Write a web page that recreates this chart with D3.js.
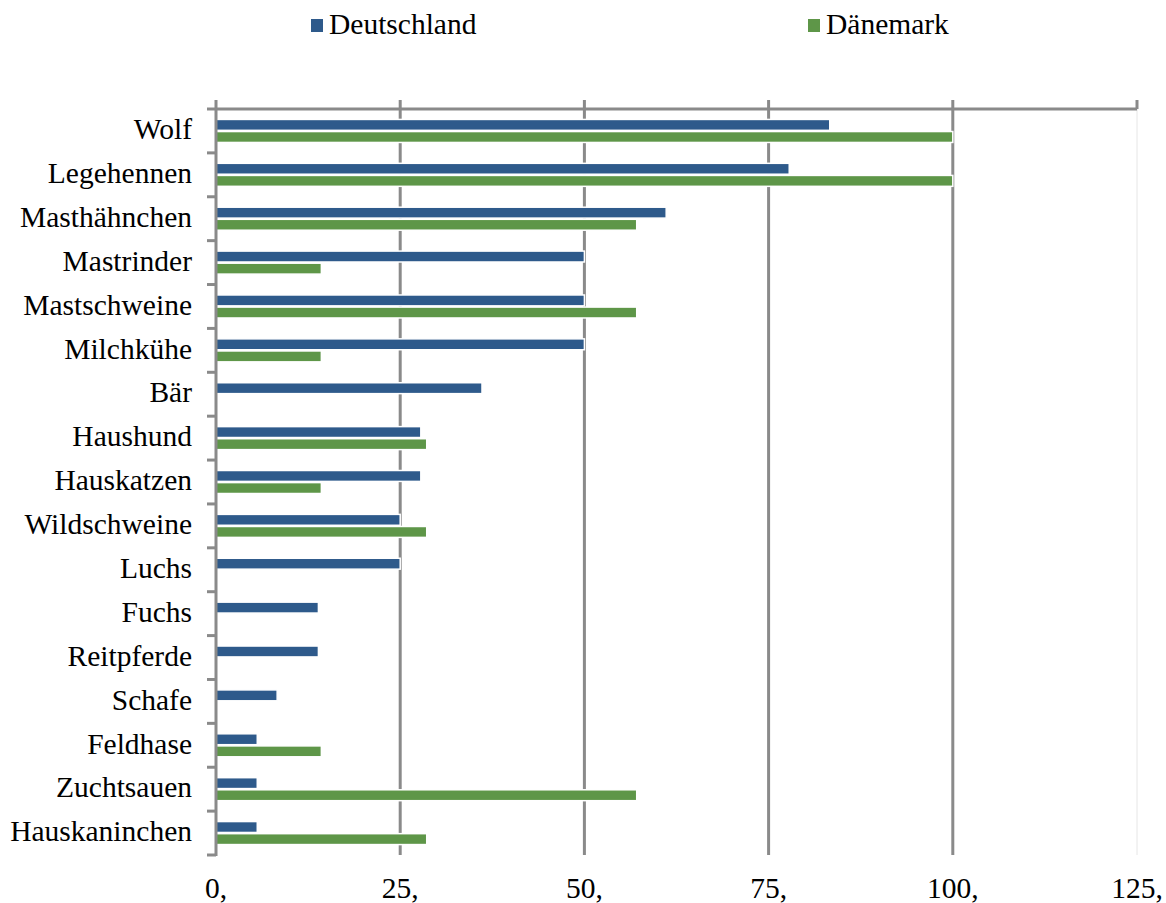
<!DOCTYPE html>
<html><head><meta charset="utf-8">
<script src="https://cdn.jsdelivr.net/npm/d3@7"></script>
<style>
html,body{margin:0;padding:0;background:#fff;}
</style></head>
<body>
<svg id="chart" width="1166" height="903"></svg>
<script>
const categories = ["Wolf","Legehennen","Masthähnchen","Mastrinder","Mastschweine","Milchkühe","Bär","Haushund","Hauskatzen","Wildschweine","Luchs","Fuchs","Reitpferde","Schafe","Feldhase","Zuchtsauen","Hauskaninchen"];
const seriesNames = ["Deutschland","Dänemark"];
const deutschland = [83.3,77.8,61.1,50,50,50,36.1,27.8,27.8,25,25,13.9,13.9,8.3,5.6,5.6,5.6];
const daenemark = [100,100,57.1,14.3,57.1,14.3,null,28.6,14.3,28.6,null,null,null,null,14.3,57.1,28.6];
const tickValues = [0,25,50,75,100,125];
const tickLabels = ["0,","25,","50,","75,","100,","125,"];
const colors = ["#2E5A8B","#5E9648"];

(function(){
const FONT = "'Liberation Serif', 'Times New Roman', Tinos, 'DejaVu Serif', serif";
const FS = 29.5;
const svg = d3.select("#chart").attr("font-family", FONT);
const mLeft = 216, mRight = 1137, mTop = 109, mBottom = 855;
const x = d3.scaleLinear().domain([0,125]).range([mLeft,mRight]);
const y = d3.scaleBand().domain(categories).range([mTop,mBottom]).padding(0);
const inner = d3.scaleBand().domain(seriesNames).range([-11.5,11.5]).paddingInner(0.1);

const axisColor = "#8a8a8a";

// gridlines
svg.append("g").selectAll("line").data(tickValues.filter(v=>v>0)).join("line")
  .attr("x1",d=>x(d)).attr("x2",d=>x(d))
  .attr("y1",d=> d===125 ? mTop : mTop-9).attr("y2",mBottom)
  .attr("stroke",d=> d===125 ? "#e6e6e6" : axisColor)
  .attr("stroke-width",d=> d===125 ? 1 : 3);
svg.append("line").attr("x1",x(125)).attr("x2",x(125)).attr("y1",mTop-9).attr("y2",mTop)
  .attr("stroke",axisColor).attr("stroke-width",3);

// top axis line
svg.append("line").attr("x1",mLeft).attr("x2",mRight).attr("y1",mTop).attr("y2",mTop)
  .attr("stroke",axisColor).attr("stroke-width",3);

// bars
const rows = categories.map((c,i)=>({c, vals:[deutschland[i],daenemark[i]]}));
const g = svg.append("g");
rows.forEach(r=>{
  r.vals.forEach((v,j)=>{
    if(v==null) return;
    const cy = y(r.c)+y.bandwidth()/2 + inner(seriesNames[j]);
    g.append("rect").attr("x",x(0)).attr("y",cy)
      .attr("width",x(v)-x(0)).attr("height",inner.bandwidth())
      .attr("fill",colors[j]).attr("stroke","#fff").attr("stroke-width",1.5);
  });
});

// left axis
svg.append("line").attr("x1",mLeft).attr("x2",mLeft).attr("y1",mTop-9).attr("y2",mBottom+1)
  .attr("stroke",axisColor).attr("stroke-width",3);
const bounds = categories.map(c=>y(c)).concat([mBottom]);
svg.append("g").selectAll("line").data(bounds).join("line")
  .attr("x1",mLeft-9).attr("x2",mLeft).attr("y1",d=>d).attr("y2",d=>d)
  .attr("stroke",axisColor).attr("stroke-width",3);

// category labels
svg.append("g").selectAll("text").data(categories).join("text")
  .attr("font-family",FONT).attr("fill","#000")
  .attr("x",mLeft-24).attr("y",d=>y(d)+y.bandwidth()/2)
  .attr("dy","0.28em").attr("text-anchor","end").attr("font-size",FS).text(d=>d);

// bottom tick labels
svg.append("g").selectAll("text").data(tickValues).join("text")
  .attr("font-family",FONT).attr("fill","#000")
  .attr("x",d=>x(d)).attr("y",898).attr("text-anchor","middle")
  .attr("font-size",FS).text((d,i)=>tickLabels[i]);

// legend
const legendX = [311,808];
seriesNames.forEach((s,i)=>{
  svg.append("rect").attr("x",legendX[i]).attr("y",19).attr("width",12).attr("height",13).attr("fill",colors[i]);
  svg.append("text").attr("font-family",FONT).attr("fill","#000")
    .attr("x",legendX[i]+18).attr("y",34).attr("font-size",FS).text(s);
});
})();
</script>
</body></html>
